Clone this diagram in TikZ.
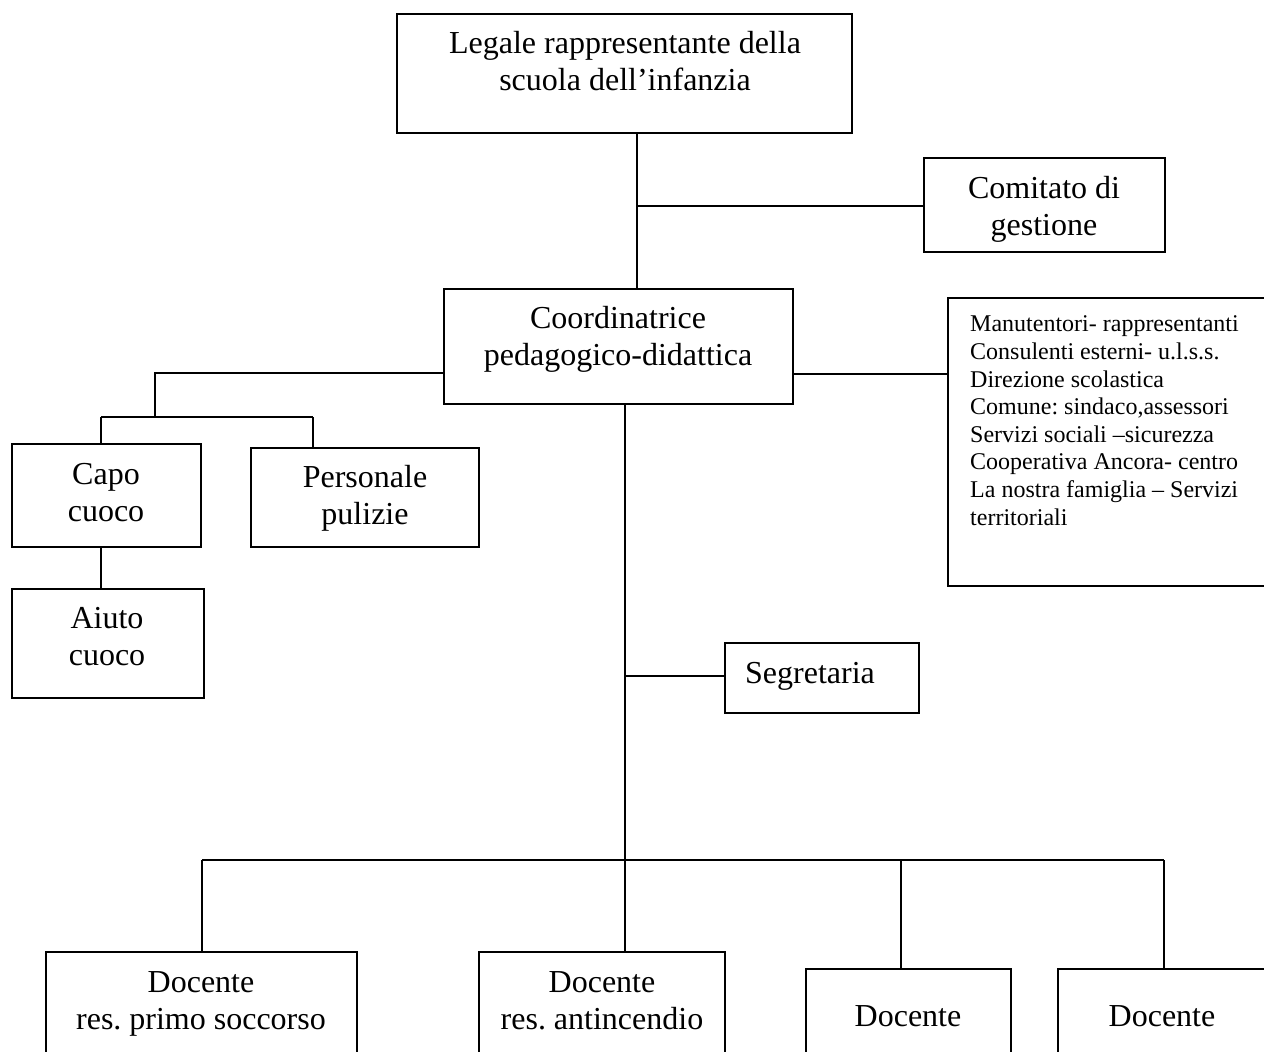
\documentclass[tikz,border=0pt]{standalone}
\usepackage{fontspec}
\setmainfont{Liberation Serif}
\frenchspacing
\begin{document}
\begin{tikzpicture}[x=1pt,y=-1pt,
  box/.style={draw=black,line width=1.8pt,rectangle,inner sep=0pt},
  conn/.style={draw=black,line width=1.6pt},
  lbl/.style={inner sep=0pt,anchor=base,align=center,font=\fontsize{32}{37}\selectfont\frenchspacing},
  small/.style={inner sep=0pt,anchor=base west,align=left,font=\fontsize{24}{27.6}\selectfont\frenchspacing}]
\clip (0,0) rectangle (1264,1052);
\fill[white] (0,0) rectangle (1264,1052);
% boxes
\node[box,minimum width=455,minimum height=119] (legale) at (624.5,73.5) {};
\node[box,minimum width=241,minimum height=94] (comitato) at (1044.5,205) {};
\node[box,minimum width=349,minimum height=115] (coord) at (618.5,346.5) {};
\node[box,minimum width=327,minimum height=288] (ext) at (1111.5,442) {};
\node[box,minimum width=189,minimum height=103] (capo) at (106.5,495.5) {};
\node[box,minimum width=228,minimum height=99] (pers) at (365,497.5) {};
\node[box,minimum width=192,minimum height=109] (aiuto) at (108,643.5) {};
\node[box,minimum width=194,minimum height=70] (segr) at (822,678) {};
\node[box,minimum width=311,minimum height=148] (doc1) at (201.5,1026) {};
\node[box,minimum width=246,minimum height=148] (doc2) at (602,1026) {};
\node[box,minimum width=205,minimum height=131] (doc3) at (908.5,1034.5) {};
\node[box,minimum width=217,minimum height=131] (doc4) at (1166.5,1034.5) {};
% texts (anchor = baseline of last line)
\node[lbl] (legale-t) at (625,90) {Legale rappresentante della\\scuola dell’infanzia};
\node[lbl] (comitato-t) at (1044,235) {Comitato di\\gestione};
\node[lbl] (coord-t) at (618,365) {Coordinatrice\\pedagogico-didattica};
\node[small] (ext-t) at (970,525) {Manutentori- rappresentanti\\Consulenti esterni- u.l.s.s.\\Direzione scolastica\\Comune: sindaco,assessori\\Servizi sociali –sicurezza\\Cooperativa Ancora- centro\\La nostra famiglia – Servizi\\territoriali};
\node[lbl] (capo-t) at (106,521) {Capo\\cuoco};
\node[lbl] (pers-t) at (365,524) {Personale\\pulizie};
\node[lbl] (aiuto-t) at (107,665) {Aiuto\\cuoco};
\node[lbl] (segr-t) at (810,683) {Segretaria};
\node[lbl] (doc1-t) at (201,1029) {Docente\\res. primo soccorso};
\node[lbl] (doc2-t) at (602,1029) {Docente\\res. antincendio};
\node[lbl] (doc3-t) at (908,1026) {Docente};
\node[lbl] (doc4-t) at (1162,1026) {Docente};
% junctions
\coordinate (jt) at (637,206);
\coordinate (je) at (870,374);
\coordinate (jl) at (155,373);
\coordinate (jl2) at (155,417);
\coordinate (jc) at (101,417);
\coordinate (jp) at (313,417);
\coordinate (jm) at (625,860);
\coordinate (js) at (625,676);
\coordinate (jb1) at (202,860);
\coordinate (jb3) at (901,860);
\coordinate (jb4) at (1164,860);
% connectors
\draw[conn] (legale.south -| jt) -- (coord.north -| jt);
\draw[conn] (jt) -- (comitato.west |- jt);
\draw[conn] (coord.east |- je) -- (ext.west |- je);
\draw[conn] (coord.west |- jl) -- (jl) -- (jl2);
\draw[conn] (jc) -- (jp);
\draw[conn] (jc) -- (capo.north -| jc);
\draw[conn] (jp) -- (pers.north -| jp);
\draw[conn] (capo.south -| jc) -- (aiuto.north -| jc);
\draw[conn] (coord.south -| jm) -- (doc2.north -| jm);
\draw[conn] (js) -- (segr.west |- js);
\draw[conn] (jb1) -- (jb4);
\draw[conn] (jb1) -- (doc1.north -| jb1);
\draw[conn] (jb3) -- (doc3.north -| jb3);
\draw[conn] (jb4) -- (doc4.north -| jb4);
\end{tikzpicture}
\end{document}
